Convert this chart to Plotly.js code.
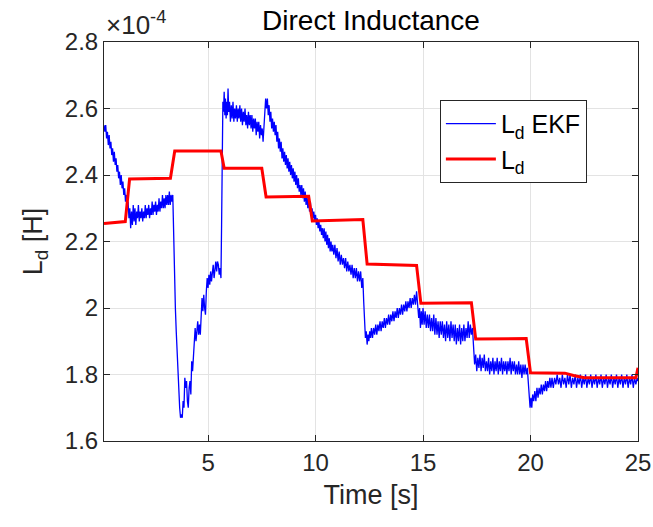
<!DOCTYPE html>
<html>
<head>
<meta charset="utf-8">
<script src="https://cdn.plot.ly/plotly-3.0.1.min.js"></script>
<style>html,body{margin:0;padding:0;background:#fff;}#chart{width:653px;height:527px;}</style>
</head>
<body>
<div id="chart"></div>
<script>
// Values in units of 1e-4 H (axis shows the x10^-4 multiplier)
const chartTitle = 'Direct Inductance';
const xLabel = 'Time [s]';
const yLabel = 'L<sub>d</sub> [H]';
const seriesNames = ['L<sub>d</sub> EKF', 'L<sub>d</sub>'];
const xTicks = [5, 10, 15, 20, 25];
const yTicks = [1.6, 1.8, 2, 2.2, 2.4, 2.6, 2.8];
const yTickText = ['1.6', '1.8', '2', '2.2', '2.4', '2.6', '2.8'];

// Reference inductance (red): [time s, value]
const ldRef = [
  [0.16,2.254],[1.15,2.260],[1.35,2.388],[3.25,2.390],[3.45,2.472],[5.60,2.472],
  [5.75,2.420],[7.50,2.420],[7.70,2.334],[9.68,2.336],[9.85,2.262],[12.20,2.266],
  [12.40,2.132],[14.70,2.128],[14.90,2.014],[17.25,2.016],[17.45,1.907],[19.80,1.908],
  [20.00,1.805],[21.60,1.804],[22.00,1.797],[22.50,1.790],[24.90,1.790],[25.00,1.820]
];

// EKF estimate (blue): [time s, value]
const ldEkf = [
  [0.16,2.55],[0.20,2.53],[0.24,2.55],[0.28,2.51],[0.32,2.53],[0.36,2.49],[0.40,2.52],[0.44,2.48],[0.48,2.50],[0.52,2.46],
  [0.56,2.48],[0.60,2.44],[0.64,2.47],[0.68,2.43],[0.72,2.45],[0.76,2.41],[0.80,2.43],[0.84,2.39],[0.88,2.41],[0.92,2.37],
  [0.96,2.40],[1.00,2.36],[1.04,2.38],[1.08,2.34],[1.12,2.36],[1.16,2.32],[1.20,2.34],[1.24,2.30],[1.28,2.32],[1.32,2.27],
  [1.36,2.30],[1.40,2.24],[1.44,2.29],[1.48,2.25],
  [1.52,2.31],[1.56,2.26],[1.60,2.30],[1.64,2.25],[1.68,2.29],[1.72,2.27],[1.76,2.31],[1.80,2.26],[1.84,2.29],[1.88,2.27],
  [1.92,2.30],[1.96,2.26],[2.00,2.29],[2.04,2.27],[2.08,2.31],[2.12,2.27],[2.16,2.30],[2.20,2.28],[2.24,2.31],[2.28,2.27],
  [2.32,2.30],[2.36,2.28],[2.40,2.32],[2.44,2.28],[2.48,2.31],[2.52,2.29],[2.56,2.32],[2.60,2.28],[2.64,2.31],[2.68,2.29],
  [2.72,2.33],[2.76,2.29],[2.80,2.32],[2.84,2.30],[2.88,2.34],[2.92,2.30],[2.96,2.33],[3.00,2.30],[3.04,2.34],[3.08,2.31],
  [3.12,2.34],[3.16,2.31],[3.20,2.35],[3.24,2.31],[3.28,2.34],[3.32,2.32],[3.36,2.34],
  [3.40,2.20],[3.44,2.05],[3.48,2.00],[3.52,1.93],[3.56,1.86],[3.60,1.80],[3.64,1.74],[3.68,1.70],[3.72,1.67],[3.76,1.68],
  [3.80,1.67],[3.84,1.72],[3.88,1.70],[3.92,1.79],[3.96,1.76],[4.00,1.78],[4.04,1.72],[4.08,1.70],[4.12,1.76],[4.16,1.78],
  [4.20,1.74],[4.24,1.84],[4.28,1.81],[4.32,1.86],[4.36,1.90],[4.40,1.94],[4.44,1.90],[4.48,1.93],[4.52,1.96],[4.56,1.92],
  [4.60,1.95],[4.64,1.92],[4.68,1.99],[4.72,2.03],[4.76,1.99],[4.80,2.04],[4.84,2.00],[4.88,1.98],[4.92,2.05],[4.96,2.09],
  [5.00,2.06],[5.04,2.10],[5.08,2.07],[5.12,2.11],[5.16,2.08],[5.20,2.10],[5.24,2.13],[5.28,2.09],[5.32,2.12],[5.36,2.14],
  [5.40,2.11],[5.44,2.14],[5.48,2.13],[5.52,2.10],[5.56,2.12],[5.60,2.09],
  [5.63,2.25],[5.66,2.50],[5.69,2.62],[5.72,2.59],[5.75,2.65],[5.78,2.58],[5.81,2.63],[5.84,2.57],[5.87,2.62],[5.90,2.58],
  [5.93,2.66],[5.96,2.59],[6.00,2.62],[6.04,2.56],[6.08,2.61],[6.12,2.57],[6.16,2.62],[6.20,2.56],[6.24,2.60],[6.28,2.57],
  [6.32,2.61],[6.36,2.56],[6.40,2.60],[6.44,2.57],[6.48,2.61],[6.52,2.56],[6.56,2.60],[6.60,2.55],[6.64,2.59],[6.68,2.56],
  [6.72,2.60],[6.76,2.55],[6.80,2.58],[6.84,2.54],[6.88,2.59],[6.92,2.55],[6.96,2.58],[7.00,2.54],[7.04,2.58],[7.08,2.53],
  [7.12,2.57],[7.16,2.54],[7.20,2.57],[7.24,2.52],[7.28,2.56],[7.32,2.53],[7.36,2.56],[7.40,2.51],[7.44,2.55],[7.48,2.52],
  [7.52,2.54],[7.56,2.50],[7.60,2.55],[7.64,2.59],[7.68,2.63],[7.72,2.60],[7.76,2.63],[7.80,2.58],[7.84,2.61],
  [7.88,2.56],[7.92,2.59],[7.96,2.54],[8.00,2.57],[8.04,2.53],[8.08,2.56],[8.12,2.52],[8.16,2.55],[8.20,2.50],[8.24,2.53],
  [8.28,2.48],[8.32,2.51],[8.36,2.47],[8.40,2.50],[8.44,2.45],[8.48,2.48],[8.52,2.44],[8.56,2.47],[8.60,2.43],[8.64,2.46],
  [8.68,2.42],[8.72,2.45],[8.76,2.41],[8.80,2.44],[8.84,2.40],[8.88,2.43],[8.92,2.39],[8.96,2.42],[9.00,2.38],[9.04,2.41],
  [9.08,2.37],[9.12,2.40],[9.16,2.36],[9.20,2.39],[9.24,2.35],[9.28,2.37],[9.32,2.34],[9.36,2.37],[9.40,2.33],[9.44,2.36],
  [9.48,2.32],[9.52,2.35],[9.56,2.31],[9.60,2.34],[9.64,2.30],[9.68,2.33],[9.72,2.29],[9.76,2.32],[9.80,2.28],[9.84,2.30],
  [9.88,2.27],[9.92,2.29],[9.96,2.26],[10.00,2.28],
  [10.04,2.25],[10.08,2.27],[10.12,2.24],[10.16,2.26],[10.20,2.23],[10.24,2.25],[10.28,2.22],[10.32,2.24],[10.36,2.21],[10.40,2.24],
  [10.44,2.20],[10.48,2.23],[10.52,2.19],[10.56,2.22],[10.60,2.18],[10.64,2.21],[10.68,2.17],[10.72,2.20],[10.76,2.17],[10.80,2.19],
  [10.85,2.16],[10.90,2.19],[10.95,2.15],[11.00,2.18],[11.05,2.14],[11.10,2.17],[11.15,2.13],[11.20,2.16],[11.25,2.13],[11.30,2.15],
  [11.35,2.12],[11.40,2.15],[11.45,2.11],[11.50,2.14],[11.55,2.11],[11.60,2.13],[11.65,2.10],[11.70,2.13],[11.75,2.09],[11.80,2.12],
  [11.85,2.09],[11.90,2.12],[11.95,2.08],[12.00,2.11],[12.05,2.08],[12.10,2.11],[12.15,2.06],[12.20,2.09],
  [12.24,2.02],[12.28,1.95],[12.32,1.91],[12.36,1.93],[12.40,1.89],[12.44,1.92],[12.48,1.90],[12.52,1.93],[12.56,1.91],[12.60,1.94],
  [12.65,1.91],[12.70,1.94],[12.75,1.92],[12.80,1.95],[12.85,1.92],[12.90,1.95],[12.95,1.93],[13.00,1.96],[13.05,1.93],[13.10,1.96],
  [13.15,1.94],[13.20,1.97],[13.25,1.94],[13.30,1.97],[13.35,1.95],[13.40,1.98],[13.45,1.95],[13.50,1.98],[13.55,1.96],[13.60,1.99],
  [13.65,1.96],[13.70,1.99],[13.75,1.97],[13.80,2.00],[13.85,1.97],[13.90,2.00],[13.95,1.98],[14.00,2.01],[14.05,1.98],[14.10,2.01],
  [14.15,1.99],[14.20,2.02],[14.25,1.99],[14.30,2.02],[14.35,2.00],[14.40,2.03],[14.45,2.00],[14.50,2.03],[14.55,2.01],[14.60,2.04],
  [14.65,2.01],[14.70,2.05],[14.75,2.02],
  [14.80,1.97],[14.84,2.00],[14.88,1.94],[14.92,1.99],[14.96,1.95],[15.00,2.00],[15.05,1.95],[15.10,1.99],[15.15,1.94],[15.20,1.98],
  [15.25,1.94],[15.30,1.98],[15.35,1.93],[15.40,1.97],[15.45,1.93],[15.50,1.98],[15.55,1.92],[15.60,1.97],[15.65,1.92],[15.70,1.96],
  [15.75,1.91],[15.80,1.96],[15.85,1.92],[15.90,1.96],[15.95,1.91],[16.00,1.95],[16.05,1.90],[16.10,1.96],[16.15,1.91],[16.20,1.95],
  [16.25,1.90],[16.30,1.96],[16.35,1.91],[16.40,1.95],[16.45,1.90],[16.50,1.95],[16.55,1.89],[16.60,1.94],[16.65,1.90],[16.70,1.95],
  [16.75,1.89],[16.80,1.94],[16.85,1.90],[16.90,1.95],[16.95,1.90],[17.00,1.94],[17.05,1.91],[17.10,1.96],[17.15,1.91],[17.20,1.95],
  [17.25,1.92],[17.30,1.94],
  [17.35,1.88],[17.40,1.83],[17.45,1.86],[17.50,1.81],[17.55,1.85],[17.60,1.82],[17.65,1.86],[17.70,1.81],[17.75,1.85],[17.80,1.82],
  [17.85,1.86],[17.90,1.81],[17.95,1.84],[18.00,1.81],[18.05,1.85],[18.10,1.80],[18.15,1.84],[18.20,1.81],[18.25,1.85],[18.30,1.80],
  [18.35,1.84],[18.40,1.81],[18.45,1.85],[18.50,1.80],[18.55,1.84],[18.60,1.81],[18.65,1.85],[18.70,1.80],[18.75,1.84],[18.80,1.81],
  [18.85,1.84],[18.90,1.80],[18.95,1.84],[19.00,1.81],[19.05,1.85],[19.10,1.80],[19.15,1.84],[19.20,1.81],[19.25,1.84],[19.30,1.80],
  [19.35,1.83],[19.40,1.80],[19.45,1.84],[19.50,1.80],[19.55,1.83],[19.60,1.79],[19.65,1.83],[19.70,1.80],[19.75,1.83],[19.80,1.80],
  [19.85,1.82],
  [19.90,1.76],[19.94,1.72],[19.98,1.70],[20.02,1.73],[20.06,1.70],[20.10,1.74],[20.15,1.72],[20.20,1.75],[20.25,1.72],[20.30,1.76],
  [20.35,1.73],[20.40,1.76],[20.45,1.74],[20.50,1.77],[20.55,1.74],[20.60,1.77],[20.65,1.75],[20.70,1.78],[20.75,1.75],[20.80,1.78],
  [20.85,1.76],[20.90,1.79],[20.95,1.76],[21.00,1.79],[21.06,1.76],[21.12,1.79],[21.18,1.77],[21.24,1.80],[21.30,1.77],[21.36,1.79],
  [21.42,1.76],[21.48,1.80],[21.54,1.77],[21.60,1.79],[21.66,1.76],[21.72,1.80],[21.78,1.77],[21.84,1.80],[21.90,1.76],[21.96,1.79],
  [22.02,1.77],[22.08,1.80],[22.14,1.76],[22.20,1.79],[22.26,1.77],[22.32,1.80],[22.38,1.76],[22.44,1.79],[22.50,1.77],[22.56,1.80],
  [22.62,1.76],[22.68,1.79],[22.74,1.77],[22.80,1.80],[22.86,1.76],[22.92,1.79],[22.98,1.77],[23.04,1.80],[23.10,1.76],[23.16,1.79],
  [23.22,1.77],[23.28,1.80],[23.34,1.76],[23.40,1.79],[23.46,1.77],[23.52,1.80],[23.58,1.76],[23.64,1.79],[23.70,1.77],[23.76,1.80],
  [23.82,1.76],[23.88,1.79],[23.94,1.77],[24.00,1.80],[24.06,1.76],[24.12,1.79],[24.18,1.77],[24.24,1.80],[24.30,1.76],[24.36,1.79],
  [24.42,1.77],[24.48,1.80],[24.54,1.76],[24.60,1.79],[24.66,1.77],[24.72,1.80],[24.78,1.76],[24.84,1.79],[24.90,1.77],[24.96,1.79],
  [25.00,1.78]
];

const FONT = '"Liberation Sans", Arial, Helvetica, sans-serif';
const AX = '#262626';

const traces = [
  {
    x: ldEkf.map(p => p[0]), y: ldEkf.map(p => p[1]),
    type: 'scatter', mode: 'lines', name: seriesNames[0],
    line: {color: '#0000ff', width: 1.3}
  },
  {
    x: ldRef.map(p => p[0]), y: ldRef.map(p => p[1]),
    type: 'scatter', mode: 'lines', name: seriesNames[1],
    line: {color: '#ff0000', width: 3}
  }
];

const axisCommon = {
  showline: true, linecolor: AX, linewidth: 1, mirror: 'ticks',
  ticks: 'inside', ticklen: 6, tickcolor: AX, tickwidth: 1,
  showgrid: true, gridcolor: '#e3e3e3', gridwidth: 1, zeroline: false,
  tickfont: {family: FONT, size: 24, color: AX}
};

const layout = {
  width: 653, height: 527,
  margin: {l: 104, r: 15, t: 42, b: 86},
  paper_bgcolor: '#ffffff', plot_bgcolor: '#ffffff',
  font: {family: FONT, color: AX},
  title: {text: chartTitle, font: {family: FONT, size: 28, color: '#000000'},
          x: 0.5, xref: 'paper', xanchor: 'center', y: 0.962, yref: 'container', yanchor: 'middle'},
  xaxis: Object.assign({}, axisCommon, {
    range: [0.16, 25], tickvals: xTicks, ticktext: xTicks.map(String),
    title: {text: xLabel, font: {family: FONT, size: 27, color: AX}, standoff: 10}
  }),
  yaxis: Object.assign({}, axisCommon, {
    range: [1.6, 2.8], tickvals: yTicks, ticktext: yTickText,
    title: {text: yLabel, font: {family: FONT, size: 27, color: AX}, standoff: 14}
  }),
  showlegend: true,
  legend: {
    x: 0.629, y: 0.855, xanchor: 'left', yanchor: 'top',
    bgcolor: '#ffffff', bordercolor: AX, borderwidth: 1,
    font: {family: FONT, size: 25, color: '#000000'},
    itemwidth: 50, tracegroupgap: 0
  },
  annotations: [{
    text: '×10<sup>-4</sup>', xref: 'paper', yref: 'paper', x: 0, y: 1,
    xanchor: 'left', yanchor: 'bottom', showarrow: false,
    font: {family: FONT, size: 26, color: AX}
  }]
};

Plotly.newPlot('chart', traces, layout, {displayModeBar: false, staticPlot: true});
</script>
</body>
</html>
